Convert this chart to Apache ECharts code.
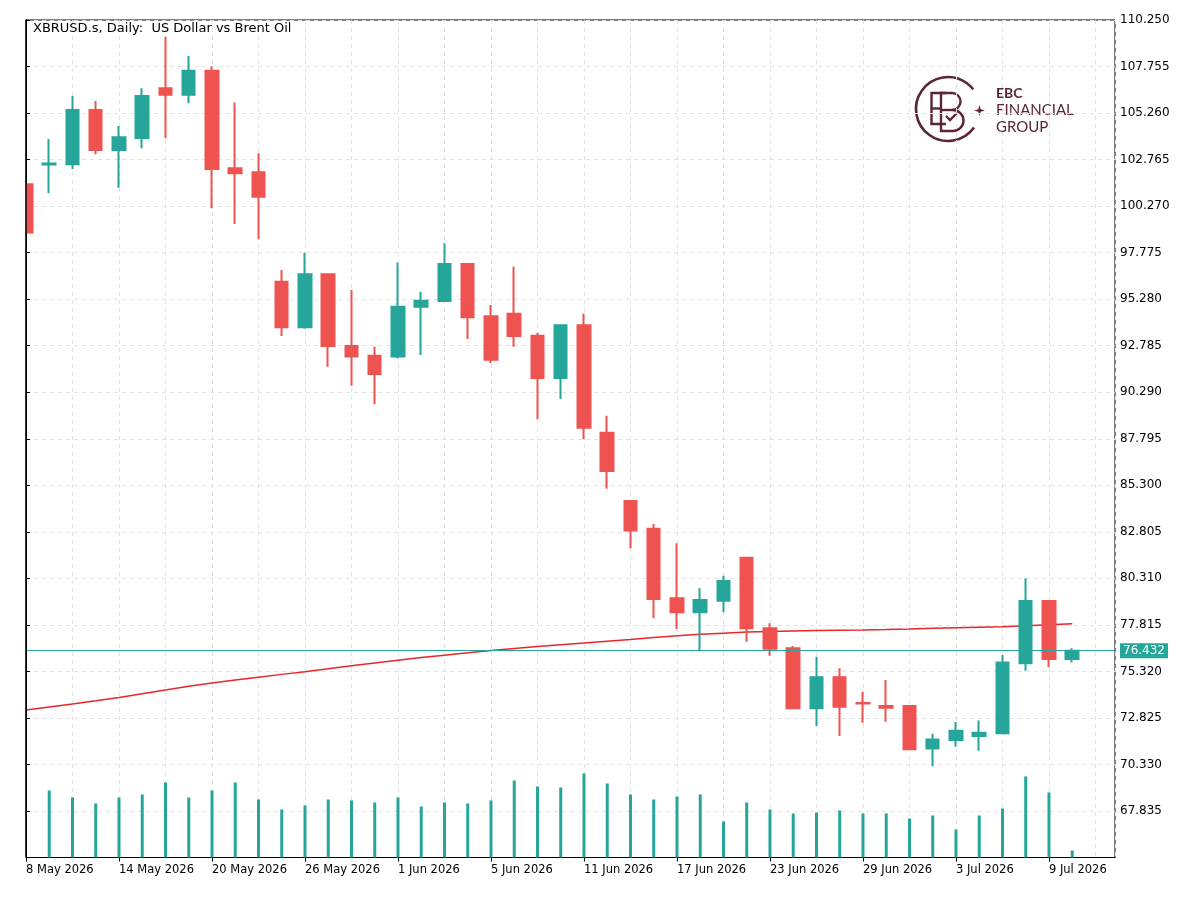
<!DOCTYPE html>
<html>
<head>
<meta charset="utf-8">
<title>XBRUSD.s, Daily</title>
<script src="https://cdn.jsdelivr.net/npm/echarts@6.0.0/dist/echarts.min.js"></script>
<style>
  html, body { margin: 0; padding: 0; background: #fff; }
  #chart { width: 1200px; height: 903px; }
</style>
</head>
<body>
<div id="chart"></div>
<script>
// trading days shown on the chart
const dates = [
  '8 May 2026', '11 May 2026', '12 May 2026', '13 May 2026', '14 May 2026', '15 May 2026',
  '18 May 2026', '19 May 2026', '20 May 2026', '21 May 2026', '22 May 2026', '25 May 2026',
  '26 May 2026', '27 May 2026', '28 May 2026', '29 May 2026', '1 Jun 2026', '2 Jun 2026',
  '3 Jun 2026', '4 Jun 2026', '5 Jun 2026', '8 Jun 2026', '9 Jun 2026', '10 Jun 2026',
  '11 Jun 2026', '12 Jun 2026', '15 Jun 2026', '16 Jun 2026', '17 Jun 2026', '18 Jun 2026',
  '19 Jun 2026', '22 Jun 2026', '23 Jun 2026', '24 Jun 2026', '25 Jun 2026', '26 Jun 2026',
  '29 Jun 2026', '30 Jun 2026', '1 Jul 2026', '2 Jul 2026', '3 Jul 2026', '6 Jul 2026',
  '7 Jul 2026', '8 Jul 2026', '9 Jul 2026', '10 Jul 2026'
];

// OHLC
const opens = [
  101.44, 102.50, 102.51, 105.42, 103.28, 103.92, 106.59, 106.24, 107.53, 102.30,
  102.08, 96.22, 93.77, 96.61, 92.77, 92.25, 92.20, 94.88, 95.18, 97.17,
  94.36, 94.50, 93.32, 91.05, 93.88, 88.12, 84.46, 82.97, 79.24, 78.49,
  79.11, 81.42, 77.63, 76.56, 73.34, 75.00, 73.63, 73.46, 73.46, 71.18,
  71.64, 71.86, 72.00, 75.76, 79.10, 75.99
];
const closes = [
  98.85, 102.55, 105.42, 103.28, 103.96, 106.17, 106.24, 107.53, 102.26, 102.03,
  100.77, 93.77, 96.61, 92.77, 92.20, 91.27, 94.88, 95.20, 97.17, 94.31,
  92.03, 93.31, 91.05, 93.88, 88.39, 86.07, 82.87, 79.20, 78.49, 79.15,
  80.17, 77.63, 76.54, 73.34, 75.00, 73.43, 73.60, 73.37, 71.14, 71.67,
  72.14, 72.03, 75.79, 79.10, 75.99, 76.432
];
const lows = [
  98.80, 100.96, 102.26, 103.05, 101.26, 103.37, 103.91, 105.78, 100.15, 99.31,
  98.49, 93.31, 93.70, 91.66, 90.64, 89.64, 92.11, 92.29, 95.15, 93.14,
  91.84, 92.73, 88.84, 89.93, 87.77, 85.12, 81.92, 78.17, 77.59, 76.41,
  78.49, 76.91, 76.16, 73.29, 72.39, 71.86, 72.57, 72.62, 71.10, 70.23,
  71.28, 71.07, 71.98, 75.36, 75.54, 75.79
];
const highs = [
  101.50, 103.87, 106.17, 105.91, 104.57, 106.59, 109.35, 108.32, 107.75, 105.82,
  103.10, 96.84, 97.77, 96.65, 95.77, 92.73, 97.24, 95.68, 98.28, 97.20,
  94.97, 97.02, 93.48, 93.90, 94.50, 89.03, 84.50, 83.22, 82.19, 79.78,
  80.45, 81.47, 77.90, 76.68, 76.11, 75.49, 74.23, 74.86, 73.52, 71.98,
  72.60, 72.68, 76.20, 80.31, 79.12, 76.56
];

// tick volume, thousands
const volumes = [
  null, 67, 60, 54, 60, 63, 75, 60, 67, 75,
  58, 48, 52, 58, 57, 55, 60, 51, 55, 54,
  57, 77, 71, 70, 84, 74, 63, 58, 61, 63,
  36, 55, 48, 44, 45, 47, 44, 44, 39, 42,
  28, 42, 49, 81, 65, 7
];

// moving average (red line)
const movingAvg = [
  73.25, 73.41, 73.57, 73.74, 73.92, 74.12, 74.32, 74.52, 74.70, 74.86,
  75.01, 75.16, 75.30, 75.46, 75.62, 75.77, 75.92, 76.06, 76.19, 76.32,
  76.44, 76.55, 76.65, 76.75, 76.84, 76.94, 77.03, 77.14, 77.23, 77.31,
  77.37, 77.43, 77.46, 77.49, 77.51, 77.53, 77.54, 77.56, 77.59, 77.63,
  77.66, 77.69, 77.72, 77.77, 77.82, 77.88
];

const lastPrice = 76.432;

const teal = '#26a69a';
const red = '#ef5350';
const maroon = '#5b2536';
const gridColor = '#e2e2e2';
const axisFont = 'DejaVu Sans';

const candles = dates.map((d, i) => [i, opens[i], closes[i], lows[i], highs[i]]);
const volumeBars = volumes.map((v, i) => [i, v]);
const maLine = movingAvg.map((v, i) => [i, v]);

const chart = echarts.init(document.getElementById('chart'));

// logo strokes
const logoLine = { stroke: maroon, lineWidth: 2.4, fill: null };

chart.setOption({
  animation: false,
  backgroundColor: '#fff',
  grid: {
    left: 26, right: 85, top: 20, bottom: 45.5,
    show: true, borderColor: '#000', borderWidth: 1, backgroundColor: '#fff'
  },
  xAxis: [
    {
      // grid lines every 2 bars
      type: 'value', min: 0, max: 46.84, interval: 2,
      axisLine: { show: true, lineStyle: { color: '#000' } },
      axisTick: { show: false },
      axisLabel: { show: false },
      splitLine: { show: true, lineStyle: { color: gridColor, type: [4, 4] } }
    },
    {
      // date labels every 4 bars
      type: 'value', min: 0, max: 46.84, interval: 4, position: 'bottom',
      axisLine: { show: false },
      axisTick: { show: true, length: 4, lineStyle: { color: '#000' } },
      splitLine: { show: false },
      axisLabel: {
        show: true, align: 'left', margin: 7, color: '#000',
        fontFamily: axisFont, fontSize: 11.5,
        showMinLabel: true, showMaxLabel: false,
        formatter: v => (Number.isInteger(v) && v % 4 === 0 && dates[v]) ? dates[v] : ''
      }
    }
  ],
  yAxis: [
    {
      type: 'value', position: 'right',
      min: 65.34, max: 110.25, interval: 2.495,
      axisLine: { show: true, lineStyle: { color: '#000' } },
      axisTick: { show: true, length: 4, lineStyle: { color: '#000' } },
      axisLabel: {
        color: '#000', fontFamily: axisFont, fontSize: 12, margin: 5,
        showMinLabel: false,
        formatter: v => v.toFixed(3)
      },
      splitLine: { show: true, lineStyle: { color: gridColor, type: [4, 4] } }
    },
    {
      // volume scale, hidden
      type: 'value', min: 0, max: 837, show: false,
      splitLine: { show: false }
    }
  ],
  series: [
    {
      name: 'Volume', type: 'bar',
      xAxisIndex: 0, yAxisIndex: 1,
      data: volumeBars, barWidth: 3,
      itemStyle: { color: teal },
      silent: true
    },
    {
      name: 'MA', type: 'line',
      xAxisIndex: 0, yAxisIndex: 0,
      data: maLine, showSymbol: false, symbol: 'none',
      lineStyle: { color: '#e8262a', width: 1.5 },
      silent: true, z: 3
    },
    {
      name: 'XBRUSD.s', type: 'candlestick',
      xAxisIndex: 0, yAxisIndex: 0,
      data: candles, barWidth: 13, clip: true,
      itemStyle: {
        color: teal, color0: red,
        borderColor: teal, borderColor0: red,
        borderWidth: 2
      },
      z: 4,
      markLine: {
        silent: true, symbol: 'none',
        data: [{ yAxis: lastPrice }],
        lineStyle: { color: teal, width: 1, type: 'solid' },
        label: {
          show: true, position: 'end', distance: 5,
          formatter: lastPrice.toFixed(3),
          color: '#fff', backgroundColor: teal,
          fontFamily: axisFont, fontSize: 12,
          padding: [2, 3, 1, 3]
        }
      }
    }
  ],
  graphic: [
    // hide the part of the first candle that falls left of the plot
    {
      type: 'rect', z: 100, silent: true,
      shape: { x: 0, y: 0, width: 25.5, height: 858 },
      style: { fill: '#fff' }
    },
    {
      type: 'line', z: 101, silent: true,
      shape: { x1: 26, y1: 19.5, x2: 26, y2: 857.5 },
      style: { stroke: '#000', lineWidth: 1.5 }
    },
    {
      type: 'text', x: 33, y: 22, z: 101,
      style: {
        text: 'XBRUSD.s, Daily:  US Dollar vs Brent Oil',
        font: '13px "DejaVu Sans"', fill: '#000'
      }
    },
    // EBC logo
    {
      type: 'arc',
      shape: { cx: 948, cy: 109, r: 32, startAngle: 0.62, endAngle: 5.62, clockwise: true },
      style: { stroke: maroon, lineWidth: 2.6, fill: null }
    },
    // E
    { type: 'polyline', shape: { points: [[946, 93], [931.5, 93], [931.5, 124], [946, 124]] }, style: logoLine },
    { type: 'line', shape: { x1: 931.5, y1: 108.5, x2: 942, y2: 108.5 }, style: logoLine },
    // B
    { type: 'polyline', shape: { points: [[952, 93], [941, 93], [941, 131], [953, 131]] }, style: logoLine },
    { type: 'line', shape: { x1: 941, y1: 110, x2: 953, y2: 110 }, style: logoLine },
    { type: 'arc', shape: { cx: 952, cy: 101.5, r: 8.5, startAngle: -Math.PI / 2, endAngle: Math.PI / 2, clockwise: true }, style: logoLine },
    { type: 'arc', shape: { cx: 953, cy: 120.5, r: 10.5, startAngle: -Math.PI / 2, endAngle: Math.PI / 2, clockwise: true }, style: logoLine },
    { type: 'polyline', shape: { points: [[946, 116], [950, 120], [957, 113]] }, style: logoLine },
    {
      type: 'polygon',
      shape: {
        points: [[979.5, 105], [980.7, 109.3], [985, 110.5], [980.7, 111.7],
                 [979.5, 116], [978.3, 111.7], [974, 110.5], [978.3, 109.3]]
      },
      style: { fill: maroon }
    },
    {
      type: 'text', x: 996, y: 93.5,
      style: { text: 'EBC', font: 'bold 14px Lato', fill: maroon, textVerticalAlign: 'middle' }
    },
    {
      type: 'text', x: 996, y: 110.5,
      style: { text: 'FINANCIAL', font: '15px Lato', fill: maroon, textVerticalAlign: 'middle' }
    },
    {
      type: 'text', x: 996, y: 127,
      style: { text: 'GROUP', font: '15px Lato', fill: maroon, textVerticalAlign: 'middle' }
    }
  ]
});
</script>
</body>
</html>
